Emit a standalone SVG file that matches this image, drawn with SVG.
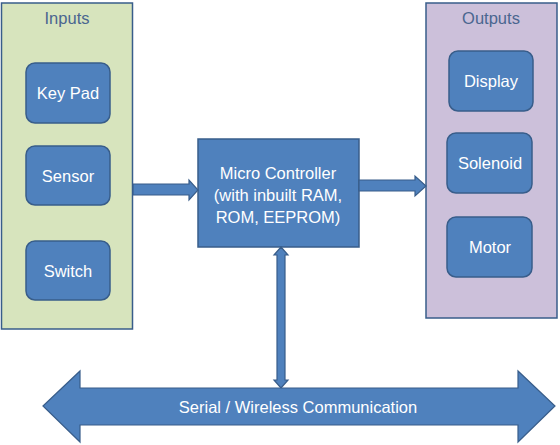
<svg xmlns="http://www.w3.org/2000/svg" width="560" height="445" viewBox="0 0 560 445">
<style>
.box{fill:#4F81BD;stroke:#385D8A;stroke-width:1.5}
.lbl{font-family:"Liberation Sans",Arial,sans-serif;font-size:16.5px;fill:#FFFFFF;text-anchor:middle}
.ttl{font-family:"Liberation Sans",Arial,sans-serif;font-size:16.5px;fill:#4A6690;text-anchor:middle}
.arr{fill:#4F81BD;stroke:#385D8A;stroke-width:1.2}
</style>
<rect width="560" height="445" fill="#FFFFFF"/>
<g id="inputs">
<rect x="1.5" y="3" width="131" height="326" fill="#D7E4BD" stroke="#385D8A" stroke-width="1.5"/>
<text class="ttl" x="67" y="24">Inputs</text>
</g>
<g id="keypad"><rect class="box" x="26" y="63" width="84" height="60" rx="9"/><text class="lbl" x="68" y="99">Key Pad</text></g>
<g id="sensor"><rect class="box" x="26" y="146" width="84" height="59" rx="9"/><text class="lbl" x="68" y="182">Sensor</text></g>
<g id="switch"><rect class="box" x="26" y="241" width="84" height="59" rx="9"/><text class="lbl" x="68" y="277">Switch</text></g>
<g id="outputs">
<rect x="426" y="3" width="131" height="315" fill="#CCC0DA" stroke="#385D8A" stroke-width="1.5"/>
<text class="ttl" x="491" y="24">Outputs</text>
</g>
<g id="display"><rect class="box" x="449" y="51" width="84" height="60" rx="9"/><text class="lbl" x="491" y="87">Display</text></g>
<g id="solenoid"><rect class="box" x="447" y="133" width="85" height="60" rx="9"/><text class="lbl" x="490" y="169">Solenoid</text></g>
<g id="motor"><rect class="box" x="447" y="217" width="85" height="60" rx="9"/><text class="lbl" x="490" y="253">Motor</text></g>
<g id="microcontroller">
<rect class="box" x="198" y="139" width="161" height="108"/>
<text class="lbl" x="278" y="179">Micro Controller</text>
<text class="lbl" x="278" y="201">(with inbuilt RAM,</text>
<text class="lbl" x="278" y="223">ROM, EEPROM)</text>
</g>
<g id="connectors">
<polygon class="arr" points="133,184 189,184 189,180 198,190 189,200 189,195 133,195"/>
<polygon class="arr" points="359,180 415,180 415,176 426,186 415,196 415,191 359,191"/>
<polygon class="arr" points="281,247 288,255 285,255 285,380 288,380 281,388 274,380 277,380 277,255 274,255"/>
<polygon class="arr" points="43,406 80,371 80,388 518,388 518,371 555,406 518,442 518,425 80,425 80,442"/>
<text class="lbl" x="298" y="413">Serial / Wireless Communication</text>
</g>
</svg>
